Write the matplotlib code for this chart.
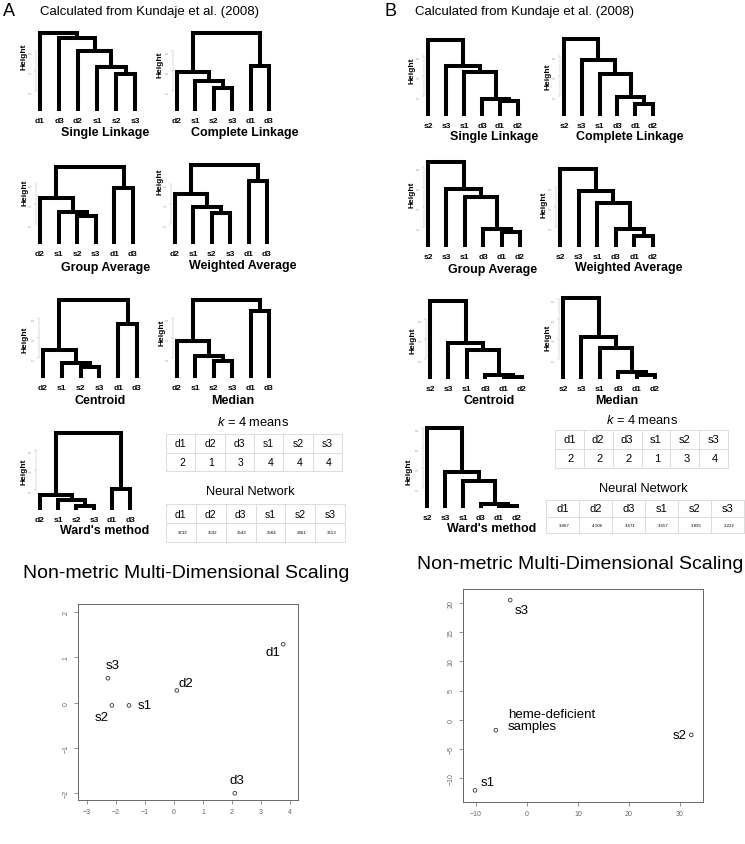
import matplotlib
matplotlib.use("Agg")
import matplotlib.pyplot as plt
from matplotlib.ticker import MaxNLocator

plt.rcParams["font.family"] = ["Liberation Sans", "DejaVu Sans"]
plt.rcParams["mathtext.fontset"] = "custom"
plt.rcParams["mathtext.it"] = "Liberation Sans:italic"
plt.rcParams["mathtext.rm"] = "Liberation Sans"

W, H = 745, 845

# ---------- data ----------
ORDER_A_SINGLE = ["d1", "d3", "d2", "s1", "s2", "s3"]
ORDER_A = ["d2", "s1", "s2", "s3", "d1", "d3"]
ORDER_B = ["s2", "s3", "s1", "d3", "d1", "d2"]

# merges: pairs of leaf names or indices of earlier merges
MERGES_A_SINGLE = [("s2", "s3"), ("s1", 0), ("d2", 1), ("d3", 2), ("d1", 3)]
MERGES_A = [("s2", "s3"), ("s1", 0), ("d2", 1), ("d1", "d3"), (2, 3)]
MERGES_B = [("d1", "d2"), ("d3", 0), ("s1", 1), ("s3", 2), ("s2", 3)]

# merge heights (relative units)
H_SINGLE_A = [37, 44, 60, 73, 78]
H_COMPLETE_A = [23, 30, 39, 45, 78]
H_GROUP_A = [28, 32, 46, 56, 77]
H_WEIGHTED_A = [31, 37, 50, 63, 79]
H_CENTROID_A = [11, 15, 28, 54, 78]
H_MEDIAN_A = [17, 22, 37, 67, 78]
H_WARD_A = [4, 10, 15, 21, 77]

H_SINGLE_B = [15, 17, 44, 50, 76]
H_COMPLETE_B = [12, 19, 42, 56, 77]
H_GROUP_B = [15, 18, 50, 58, 85]
H_WEIGHTED_B = [11, 18, 44, 56, 78]
H_CENTROID_B = [2, 4, 29, 36, 78]
H_MEDIAN_B = [4, 7, 31, 42, 81]
H_WARD_B = [2, 4, 27, 36, 80]

SAMPLES = ["d1", "d2", "d3", "s1", "s2", "s3"]
KMEANS_A = [2, 1, 3, 4, 4, 4]
KMEANS_B = [2, 2, 2, 1, 3, 4]
NN_A = ["3733", "3532", "3543", "3564", "3361", "3513"]
NN_B = ["3.067", "4.106", "3.571", "3.557", "3.895", "3.222"]

MDS_A_LABELS = ["s3", "s2", "s1", "d2", "d1", "d3"]
MDS_A_X = [-2.28, -2.14, -1.55, 0.10, 3.77, 2.10]
MDS_A_Y = [0.54, -0.06, -0.06, 0.27, 1.29, -2.00]

MDS_B_LABELS = ["s3", "heme-deficient\nsamples", "s1", "s2"]
MDS_B_X = [-3.3, -6.1, -10.2, 32.2]
MDS_B_Y = [20.5, -1.8, -12.1, -2.6]

fig = plt.figure(figsize=(W / 100, H / 100), dpi=100)


def ptext(x, y, s, **kw):
    return fig.text(x / W, 1 - y / H, s, **kw)


def px_axes(l, t, r, b):
    return fig.add_axes([l / W, 1 - b / H, (r - l) / W, (b - t) / H])


# ---------- dendrograms ----------
def draw_tree(box, order, merges, heights, title, title_xy, hlab_xy, lab_pad=4):
    x1, x2, yb, yt = box
    dx = (x2 - x1) / 5
    gap = 4
    ax = px_axes(x1 - gap, yt, x2 + gap, yb)
    pos = {nm: i + 1 for i, nm in enumerate(order)}
    nx, nh = [], []

    def get(c):
        if isinstance(c, int):
            return nx[c], nh[c]
        return pos[c], 0.0

    for (a, b), h in zip(merges, heights):
        xa, ha = get(a)
        xb, hb = get(b)
        ax.plot([xa, xa, xb, xb], [ha, h, h, hb], color="black", lw=2.9,
                solid_joinstyle="miter", solid_capstyle="butt", clip_on=False)
        nx.append((xa + xb) / 2)
        nh.append(h)
    top = max(heights)
    ax.set_xlim(1 - gap / dx, 6 + gap / dx)
    ax.set_ylim(0, top)
    ax.set_xticks(range(1, 7))
    ax.set_xticklabels(order, fontsize=6, fontweight="bold")
    ax.tick_params(axis="x", length=0, pad=lab_pad)
    ticks = [t for t in MaxNLocator(5).tick_values(0, top) if 0.08 * top <= t <= top]
    ax.set_yticks(ticks)
    ax.tick_params(axis="y", length=1.5, width=0.3, colors="#aaaaaa",
                   labelsize=2, pad=0.5)
    for lab in ax.get_yticklabels():
        lab.set_rotation(90)
        lab.set_va("center")
    for s in ["top", "right", "bottom"]:
        ax.spines[s].set_visible(False)
    ax.spines["left"].set_color("#aaaaaa")
    ax.spines["left"].set_linewidth(0.3)
    ax.spines["left"].set_bounds(ticks[0], ticks[-1])
    ax.patch.set_alpha(0)
    ptext(*title_xy, title, fontsize=9, fontweight="bold", ha="center", va="center")
    ptext(*hlab_xy, "Height", fontsize=6, fontweight="bold", rotation=90,
          ha="center", va="center")


trees = [
    ((40, 135, 112, 34), ORDER_A_SINGLE, MERGES_A_SINGLE, H_SINGLE_A, "Single Linkage", (105, 133), (24, 57)),
    ((177, 269, 112, 34), ORDER_A, MERGES_A, H_COMPLETE_A, "Complete Linkage", (245, 133), (160, 65)),
    ((40, 133, 245, 168), ORDER_A, MERGES_A, H_GROUP_A, "Group Average", (106, 268), (25, 193)),
    ((175, 267, 245, 166), ORDER_A, MERGES_A, H_WEIGHTED_A, "Weighted Average", (243, 266), (160, 182)),
    ((43, 137, 379, 301), ORDER_A, MERGES_A, H_CENTROID_A, "Centroid", (100, 401), (25, 340)),
    ((177, 269, 379, 301), ORDER_A, MERGES_A, H_MEDIAN_A, "Median", (233, 401), (162, 333)),
    ((40, 130, 511, 434), ORDER_A, MERGES_A, H_WARD_A, "Ward's method", (105, 531), (24, 472)),
    ((428, 518, 117, 41), ORDER_B, MERGES_B, H_SINGLE_B, "Single Linkage", (494, 137), (412, 71)),
    ((564, 653, 117, 40), ORDER_B, MERGES_B, H_COMPLETE_B, "Complete Linkage", (630, 137), (548, 77)),
    ((428, 520, 248, 163), ORDER_B, MERGES_B, H_GROUP_B, "Group Average", (493, 270), (412, 195)),
    ((560, 653, 248, 170), ORDER_B, MERGES_B, H_WEIGHTED_B, "Weighted Average", (629, 268), (544, 205)),
    ((430, 522, 380, 302), ORDER_B, MERGES_B, H_CENTROID_B, "Centroid", (489, 401), (413, 341)),
    ((563, 655, 380, 299), ORDER_B, MERGES_B, H_MEDIAN_B, "Median", (617, 401), (548, 338)),
    ((427, 517, 509, 429), ORDER_B, MERGES_B, H_WARD_B, "Ward's method", (492, 529), (409, 472)),
]
for t in trees:
    draw_tree(*t)


# ---------- tables ----------
def draw_table(l, t, r, b, header, values, fs_head, fs_val):
    ax = px_axes(l, t, r, b)
    n = len(header)
    ax.set_xlim(0, n)
    ax.set_ylim(0, 2)
    ax.axis("off")
    for i in range(n + 1):
        ax.plot([i, i], [0, 2], color="#dcdcdc", lw=0.7, clip_on=False)
    for j in range(3):
        ax.plot([0, n], [j, j], color="#dcdcdc", lw=0.7, clip_on=False)
    for i, (hd, v) in enumerate(zip(header, values)):
        ax.text(i + 0.5, 1.5, hd, ha="center", va="center", fontsize=fs_head)
        ax.text(i + 0.55, 0.5, str(v), ha="center", va="center", fontsize=fs_val)


ptext(253, 423, r"$k$ = 4 means", fontsize=9.3, ha="center", va="center")
draw_table(166, 435, 342, 472, SAMPLES, KMEANS_A, 7.5, 7.5)
ptext(250, 492, "Neural Network", fontsize=9.3, ha="center", va="center")
draw_table(166, 505, 345, 543, SAMPLES, NN_A, 7.5, 3.2)

ptext(642, 421, r"$k$ = 4 means", fontsize=9.3, ha="center", va="center")
draw_table(555, 431, 728, 469, SAMPLES, KMEANS_B, 8, 8)
ptext(643, 489, "Neural Network", fontsize=9.3, ha="center", va="center")
draw_table(546, 501, 744, 534, SAMPLES, NN_B, 8, 3.2)


# ---------- MDS ----------
def style_mds(ax):
    for s in ax.spines.values():
        s.set_color("#666666")
        s.set_linewidth(0.7)
    ax.tick_params(length=3, width=0.5, colors="#666666", labelsize=5, pad=3)
    for lab in ax.get_yticklabels():
        lab.set_rotation(90)
        lab.set_va("center")


ptext(186, 573, "Non-metric Multi-Dimensional Scaling", fontsize=14, ha="center", va="center")
ax = px_axes(78, 605, 298, 801)
ax.scatter(MDS_A_X, MDS_A_Y, s=7, facecolors="none", edgecolors="#333333", linewidths=0.6)
OFFS_A = [(5, 13), (-10, -12), (16, 0), (9, 7), (-10, -8), (2, 13)]
for lab, x, y, (ox, oy) in zip(MDS_A_LABELS, MDS_A_X, MDS_A_Y, OFFS_A):
    ax.annotate(lab, (x, y), xytext=(ox, oy), textcoords="offset pixels",
                fontsize=9.5, ha="center", va="center")
ax.set_xlim(-3.31, 4.28)
ax.set_ylim(-2.15, 2.18)
ax.set_xticks(range(-3, 5))
ax.set_yticks(range(-2, 3))
style_mds(ax)

ptext(580, 565, "Non-metric Multi-Dimensional Scaling", fontsize=14, ha="center", va="center")
ax = px_axes(463, 590, 703, 803)
ax.scatter(MDS_B_X, MDS_B_Y, s=7, facecolors="none", edgecolors="#333333", linewidths=0.6)
OFFS_B = [(11, -10, "center"), (12, 10, "left"), (13, 8, "center"), (-5, 0, "right")]
for lab, x, y, (ox, oy, ha) in zip(MDS_B_LABELS, MDS_B_X, MDS_B_Y, OFFS_B):
    ax.annotate(lab, (x, y), xytext=(ox, oy), textcoords="offset pixels",
                fontsize=9.5, ha=ha, va="center", linespacing=1.0)
ax.set_xlim(-12.55, 34.5)
ax.set_ylim(-14.1, 22.4)
ax.set_xticks(range(-10, 31, 10))
ax.set_yticks(range(-10, 21, 5))
style_mds(ax)

# ---------- headers ----------
ptext(3, 12, "A", fontsize=13, ha="left", va="center")
ptext(40, 12, "Calculated from Kundaje et al. (2008)", fontsize=9.5, ha="left", va="center")
ptext(384, 12, "B", fontsize=13, ha="left", va="center")
ptext(415, 12, "Calculated from Kundaje et al. (2008)", fontsize=9.5, ha="left", va="center")

fig.savefig("out.png", dpi=100)
